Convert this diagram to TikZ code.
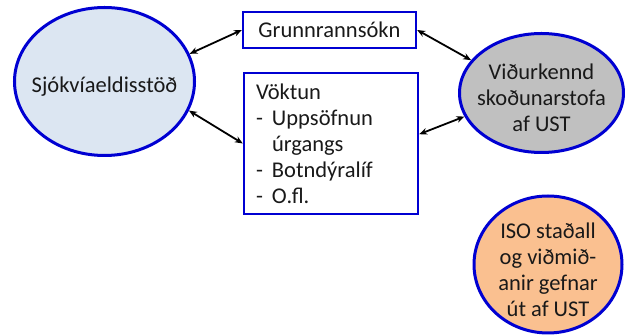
\documentclass[tikz,border=0pt]{standalone}
\usepackage{fontspec}
\setmainfont{Carlito}
\usetikzlibrary{shapes.geometric}
\usetikzlibrary{positioning}
\usetikzlibrary{arrows.meta, calc}

\definecolor{kant}{RGB}{0,0,210}
\definecolor{ljosblar}{RGB}{220,230,242}
\definecolor{grar}{RGB}{192,192,192}
\definecolor{appelsina}{RGB}{250,192,144}
\definecolor{texti}{RGB}{25,25,25}

\begin{document}
\begin{tikzpicture}
  [
    x=1pt, y=-1pt,
    >={Stealth[length=8pt,width=6.5pt]},
    every node/.style = {font=\fontsize{22.5}{26}\selectfont, text=texti},
    stod/.style   = {draw=kant, ellipse, line width=3pt, inner sep=0pt},
    heiti/.style  = {align=center, yshift=-5pt},
    kassi/.style  = {draw=kant, rectangle, line width=2.4pt, inner sep=0pt},
    tenging/.style = {<->, line width=1.8pt, black},
  ]

  % frame of the page
  \useasboundingbox (0,0) rectangle (625,336);

  % the circles
  \node (sjo) at (104.5,81.5) [stod, fill=ljosblar, minimum width=180pt, minimum height=148pt,
    label={[heiti]center:Sjókvíaeldisstöð}] {};
  \node (skod) at (541.5,93) [stod, fill=grar, minimum width=164pt, minimum height=119pt,
    label={[heiti]center:Viðurkennd\\skoðunarstofa\\af UST}] {};
  \node (iso) at (548,264.5) [stod, fill=appelsina, minimum width=148pt, minimum height=137pt,
    label={[heiti]center:ISO staðall\\og viðmið-\\anir gefnar\\út af UST}] {};

  % the boxes
  \node (grunn) at (329.5,30) [kassi, minimum width=173pt, minimum height=36pt] {Grunnrannsókn};
  \node (vokt) at (331,143.5) [kassi, text width=150pt, inner xsep=12pt, minimum height=141pt, align=left]
    {Vöktun\\
     \makebox[16pt][l]{-}Uppsöfnun\\
     \hspace*{16pt}úrgangs\\
     \makebox[16pt][l]{-}Botndýralíf\\
     \makebox[16pt][l]{-}O.fl.};

  % connectors
  \draw[tenging] (sjo.18) -- (grunn.west);
  \draw[tenging] (sjo.-19) -- (vokt.west);
  \draw[tenging] (grunn.east) -- (skod.155);
  \draw[tenging] (vokt.6) -- (skod.197);
\end{tikzpicture}
\end{document}
